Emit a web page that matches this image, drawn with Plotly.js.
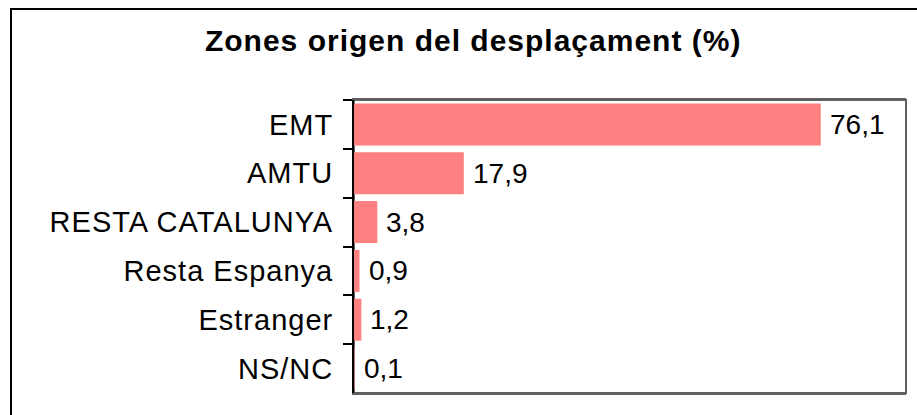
<!DOCTYPE html>
<html>
<head>
<meta charset="utf-8">
<script src="https://cdn.plot.ly/plotly-3.0.1.min.js"></script>
<style>
  html, body { margin: 0; padding: 0; background: #fff; }
  #wrap { position: relative; width: 917px; height: 415px; overflow: hidden; }
  #chart { position: absolute; left: 0; top: 0; width: 917px; height: 415px; }
  #frame { position: absolute; left: 10px; top: 8px; width: 1000px; height: 500px;
           border-left: 2px solid #000; border-top: 2px solid #000; pointer-events: none; }
  .gtitle { letter-spacing: 1px; }
  .ytick text { letter-spacing: 1px; }
</style>
</head>
<body>
<div id="wrap">
  <div id="chart"></div>
  <div id="frame"></div>
</div>
<script>
const categories = ["EMT", "AMTU", "RESTA CATALUNYA", "Resta Espanya", "Estranger", "NS/NC"];
const values = [76.1, 17.9, 3.8, 0.9, 1.2, 0.1];
const valueLabels = ["76,1", "17,9", "3,8", "0,9", "1,2", "0,1"];
const chartTitle = "Zones origen del desplaçament (%)";

const FONT = "Liberation Sans, Arial, sans-serif";

const trace = {
  type: "bar",
  orientation: "h",
  x: values,
  y: categories,
  marker: { color: "#FF8080", line: { width: 0 } },
  hoverinfo: "skip"
};

const annotations = categories.map((c, i) => ({
  x: values[i],
  y: c,
  xref: "x",
  yref: "y",
  text: valueLabels[i],
  showarrow: false,
  xanchor: "left",
  yanchor: "middle",
  xshift: 7,
  font: { family: FONT, size: 28, color: "#000" }
}));

const layout = {
  width: 917,
  height: 415,
  margin: { l: 354, r: 11, t: 100, b: 22, pad: 0 },
  paper_bgcolor: "#fff",
  plot_bgcolor: "#fff",
  showlegend: false,
  bargap: 0.14,
  title: {
    text: chartTitle,
    x: 0.516,
    xanchor: "center",
    y: 0.902,
    yanchor: "middle",
    font: { family: FONT, size: 30, color: "#000", weight: "bold" }
  },
  xaxis: {
    range: [0, 90],
    showgrid: false,
    zeroline: false,
    showticklabels: false,
    ticks: "",
    showline: true,
    mirror: true,
    linecolor: "#606060",
    linewidth: 2,
    fixedrange: true
  },
  yaxis: {
    type: "category",
    categoryorder: "array",
    categoryarray: categories,
    autorange: "reversed",
    showgrid: false,
    zeroline: false,
    showline: true,
    linecolor: "#000",
    linewidth: 2,
    ticks: "outside",
    tickson: "boundaries",
    ticklen: 9,
    tickwidth: 2,
    tickcolor: "#000",
    ticklabelstandoff: 13,
    tickfont: { family: FONT, size: 29, color: "#000" },
    fixedrange: true
  },
  shapes: [{
    type: "rect", xref: "paper", yref: "paper",
    x0: 0, x1: 1, y0: 0, y1: 1,
    line: { color: "#606060", width: 2 },
    layer: "below"
  }],
  annotations: annotations
};

Plotly.newPlot("chart", [trace], layout, { displayModeBar: false, staticPlot: true });
</script>
</body>
</html>
